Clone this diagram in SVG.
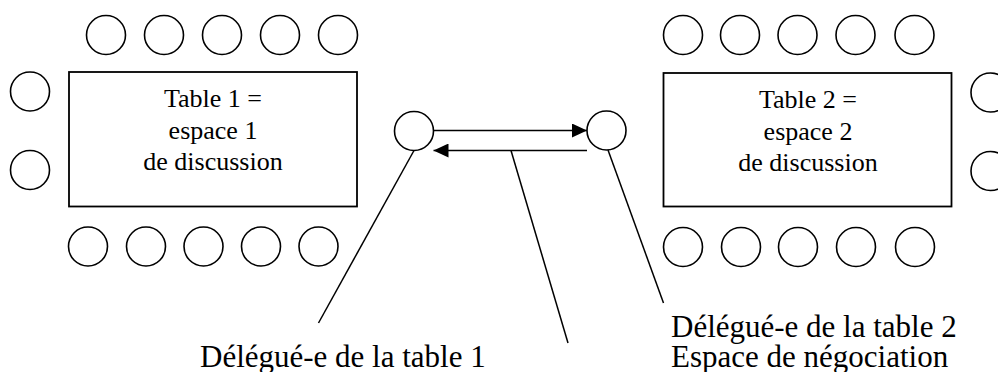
<svg xmlns="http://www.w3.org/2000/svg" width="998" height="372" viewBox="0 0 998 372">
  <defs>
    <style>
      .seat { fill: none; stroke: #000; stroke-width: 1.6; }
      .table { fill: #fff; stroke: #000; stroke-width: 1.8; }
      .link { fill: none; stroke: #000; stroke-width: 1.5; }
      .ttl { font-family: "Liberation Serif", "Times New Roman", serif; font-size: 26px; fill: #000; text-anchor: middle; }
      .lbl { font-family: "Liberation Serif", "Times New Roman", serif; font-size: 31px; fill: #000; }
    </style>
    <marker id="head" markerUnits="userSpaceOnUse" markerWidth="15" markerHeight="14" refX="15" refY="7" orient="auto">
      <path d="M0,0 L15,7 L0,14 z" fill="#000"/>
    </marker>
  </defs>

  <!-- Table 1 with its seats -->
  <g id="table1">
    <rect class="table" x="69" y="72" width="288" height="134.5"/>
    <text class="ttl" x="213" y="107">Table 1 =</text>
    <text class="ttl" x="213" y="138.5">espace 1</text>
    <text class="ttl" x="213" y="170">de discussion</text>
  </g>
  <g id="table1-seats">
    <circle class="seat" cx="106" cy="35" r="19.5"/>
    <circle class="seat" cx="164" cy="35" r="19.5"/>
    <circle class="seat" cx="222" cy="35" r="19.5"/>
    <circle class="seat" cx="280" cy="35" r="19.5"/>
    <circle class="seat" cx="338" cy="35" r="19.5"/>
    <circle class="seat" cx="30" cy="91.5" r="19.5"/>
    <circle class="seat" cx="30" cy="170" r="19.5"/>
    <circle class="seat" cx="88" cy="246.5" r="19.5"/>
    <circle class="seat" cx="146" cy="246.5" r="19.5"/>
    <circle class="seat" cx="203.5" cy="246.5" r="19.5"/>
    <circle class="seat" cx="261" cy="246.5" r="19.5"/>
    <circle class="seat" cx="318.5" cy="246.5" r="19.5"/>
  </g>

  <!-- Table 2 with its seats -->
  <g id="table2">
    <rect class="table" x="663.5" y="73" width="288" height="133.5"/>
    <text class="ttl" x="808" y="108">Table 2 =</text>
    <text class="ttl" x="808" y="139.5">espace 2</text>
    <text class="ttl" x="808" y="171">de discussion</text>
  </g>
  <g id="table2-seats">
    <circle class="seat" cx="683" cy="35" r="19.5"/>
    <circle class="seat" cx="740" cy="35" r="19.5"/>
    <circle class="seat" cx="797.5" cy="35" r="19.5"/>
    <circle class="seat" cx="855.5" cy="35" r="19.5"/>
    <circle class="seat" cx="914.5" cy="35" r="19.5"/>
    <circle class="seat" cx="990.5" cy="92.5" r="19.5"/>
    <circle class="seat" cx="990.5" cy="171" r="19.5"/>
    <circle class="seat" cx="683" cy="247" r="19.5"/>
    <circle class="seat" cx="741" cy="247" r="19.5"/>
    <circle class="seat" cx="798" cy="247" r="19.5"/>
    <circle class="seat" cx="856" cy="247" r="19.5"/>
    <circle class="seat" cx="915" cy="247" r="19.5"/>
  </g>

  <!-- Delegates -->
  <g id="delegate1">
    <circle class="seat" cx="414" cy="131" r="19.5"/>
  </g>
  <g id="delegate2">
    <circle class="seat" cx="606.5" cy="130.5" r="19.5"/>
  </g>

  <!-- Exchanges and leader lines -->
  <g id="connectors">
    <line class="link" x1="433.5" y1="130.5" x2="587" y2="130.5" marker-end="url(#head)"/>
    <line class="link" x1="587" y1="150.5" x2="433.5" y2="150.5" marker-end="url(#head)"/>
    <line class="link" x1="414" y1="150.5" x2="318.5" y2="323"/>
    <line class="link" x1="511" y1="150.5" x2="568" y2="343"/>
    <line class="link" x1="608" y1="150" x2="663.5" y2="303"/>
  </g>

  <!-- Labels -->
  <g id="labels">
    <text class="lbl" x="200" y="367">Délégué-e de la table 1</text>
    <text class="lbl" x="671" y="337">Délégué-e de la table 2</text>
    <text class="lbl" x="671" y="367">Espace de négociation</text>
  </g>
</svg>
